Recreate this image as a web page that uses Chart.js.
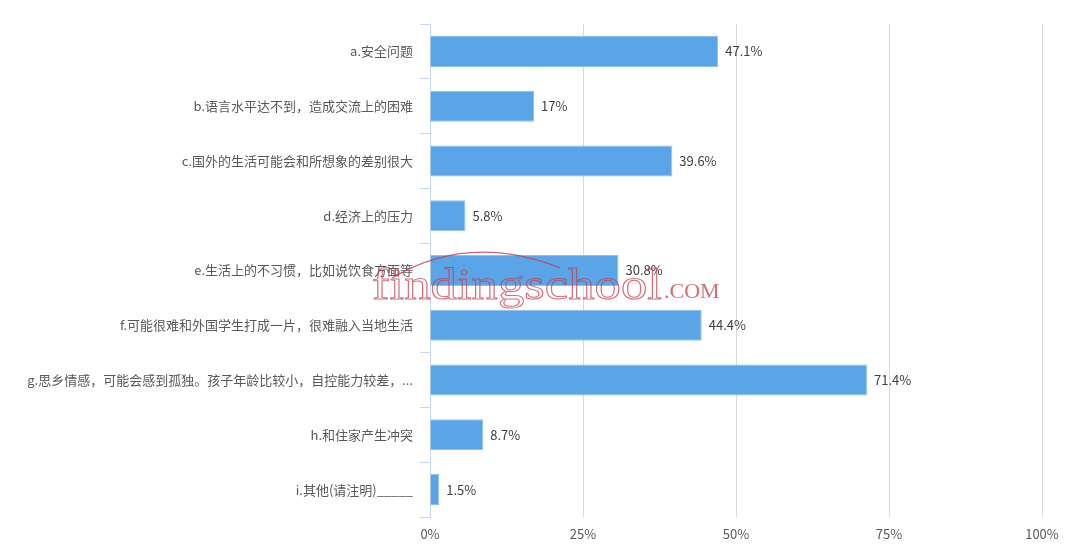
<!DOCTYPE html>
<html>
<head>
<meta charset="utf-8">
<script src="https://cdn.jsdelivr.net/npm/chart.js@4"></script>
<style>
  html, body { margin: 0; padding: 0; background: #fff; }
  #wrap { width: 1080px; height: 559px; position: relative; }
</style>
</head>
<body>
<div id="wrap"><canvas id="chart"></canvas></div>
<script>
// chart data
const categories = [
  "a.安全问题",
  "b.语言水平达不到，造成交流上的困难",
  "c.国外的生活可能会和所想象的差别很大",
  "d.经济上的压力",
  "e.生活上的不习惯，比如说饮食方面等",
  "f.可能很难和外国学生打成一片，很难融入当地生活",
  "g.思乡情感，可能会感到孤独。孩子年龄比较小，自控能力较差，...",
  "h.和住家产生冲突",
  "i.其他(请注明)_____"
];
const percentValues = [47.1, 17, 39.6, 5.8, 30.8, 44.4, 71.4, 8.7, 1.5];
const xTicks = [0, 25, 50, 75, 100];

const FONT = '"Noto Sans CJK SC", "Noto Sans", sans-serif';

// value labels at the end of each bar
const barLabels = {
  id: "barLabels",
  afterDatasetsDraw(chart) {
    const ctx = chart.ctx;
    const meta = chart.getDatasetMeta(0);
    ctx.save();
    ctx.font = "13px " + FONT;
    ctx.fillStyle = "#404040";
    ctx.textBaseline = "middle";
    ctx.textAlign = "left";
    meta.data.forEach((bar, i) => {
      ctx.fillText(percentValues[i] + "%", bar.x + 7, bar.y);
    });
    ctx.restore();
  }
};

// watermark of the source image
const watermark = {
  id: "watermark",
  afterDraw(chart) {
    const ctx = chart.ctx;
    ctx.save();
    ctx.fillStyle = "rgba(196, 60, 78, 0.75)";
    ctx.strokeStyle = "rgba(196, 60, 78, 0.75)";
    ctx.font = "44px 'Liberation Serif', serif";
    const word = "findingschool";
    const w = ctx.measureText(word).width;
    ctx.translate(372, 299);
    ctx.scale(290 / w, 1);
    ctx.lineWidth = 1;
    ctx.strokeText(word, 0, 0);
    ctx.restore();

    ctx.save();
    ctx.fillStyle = "rgba(196, 60, 78, 0.75)";
    ctx.font = "22px 'Liberation Serif', serif";
    ctx.fillText(".COM", 664, 298);
    // arc over the word
    ctx.strokeStyle = "rgba(196, 60, 78, 0.8)";
    ctx.lineWidth = 1.2;
    ctx.beginPath();
    ctx.moveTo(392, 278);
    ctx.quadraticCurveTo(470, 232, 560, 268);
    ctx.stroke();
    ctx.restore();
  }
};

new Chart(document.getElementById("chart"), {
  type: "bar",
  data: {
    labels: categories,
    datasets: [{
      data: percentValues,
      backgroundColor: "#5aa5e8",
      borderColor: "#8fc1ee",
      borderWidth: 1,
      categoryPercentage: 0.566,
      barPercentage: 1
    }]
  },
  options: {
    indexAxis: "y",
    responsive: true,
    maintainAspectRatio: false,
    animation: false,
    layout: { padding: { top: 24, right: 38, bottom: 0, left: 0 } },
    plugins: {
      legend: { display: false },
      tooltip: { enabled: false }
    },
    scales: {
      x: {
        min: 0,
        max: 100,
        afterBuildTicks: (scale) => { scale.ticks = xTicks.map(v => ({ value: v })); },
        afterFit: (scale) => { scale.height = 42; },
        border: { display: false },
        grid: {
          color: (c) => c.tick && c.tick.value === 0 ? "rgba(0,0,0,0)" : "#d9d9d9",
          drawTicks: false
        },
        ticks: {
          padding: 9,
          color: "#595959",
          font: { size: 13, family: FONT },
          callback: (v) => v + "%"
        }
      },
      y: {
        afterFit: (scale) => { scale.width = 430; },
        border: { display: true, color: "#c6d7ee", width: 1 },
        grid: {
          drawOnChartArea: false,
          drawTicks: true,
          tickLength: 10,
          color: "#c6d7ee"
        },
        ticks: {
          padding: 7,
          color: "#595959",
          font: { size: 13, family: FONT }
        }
      }
    }
  },
  plugins: [barLabels, watermark]
});
</script>
</body>
</html>
